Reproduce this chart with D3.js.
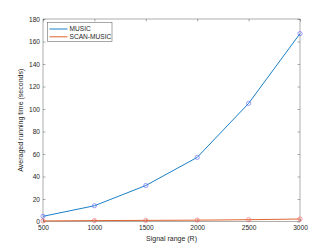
<!DOCTYPE html>
<html><head><meta charset="utf-8">
<script src="https://cdn.jsdelivr.net/npm/d3@7"></script>
<style>body{margin:0;background:#fff}svg{display:block}text{font-family:"Liberation Sans",Arial,sans-serif}</style>
</head><body><svg id="c" width="332" height="249"></svg>
<script>
const signalRange = [500, 1000, 1500, 2000, 2500, 3000];
const musicTime = [4.6, 14, 32, 57, 105, 167];
const scanMusicTime = [0.5, 0.8, 1.0, 1.2, 1.6, 2.2];
const xTicks = [500, 1000, 1500, 2000, 2500, 3000];
const yTicks = [0, 20, 40, 60, 80, 100, 120, 140, 160, 180];
const seriesNames = ["MUSIC", "SCAN-MUSIC"];

const svg = d3.select("#c");
const L = 43, R = 300, T = 19, B = 221.5;
const x = d3.scaleLinear().domain([500, 3000]).range([L, R]);
const y = d3.scaleLinear().domain([0, 180]).range([B, T]);
const axisCol = "#262626", fs = 6.6;

const g = svg.append("g");
// box
g.append("rect").attr("x", L).attr("y", T).attr("width", R - L).attr("height", B - T)
  .attr("fill", "none").attr("stroke", axisCol).attr("stroke-width", 0.5).attr("opacity", 0.75);

function styleAxis(sel, hideText) {
  sel.select(".domain").remove();
  sel.selectAll(".tick line").attr("stroke", axisCol).attr("stroke-width", 0.5).attr("opacity", 0.75);
  sel.selectAll(".tick text").attr("fill", axisCol).style("font-size", fs + "px")
    .style("font-family", '"Liberation Sans",Arial,sans-serif');
  if (hideText) sel.selectAll(".tick text").remove();
}
g.append("g").attr("transform", `translate(0,${B})`)
  .call(d3.axisBottom(x).tickValues(xTicks).tickSize(-2.5).tickPadding(4).tickFormat(d3.format("d")))
  .call(s => styleAxis(s, false));
g.append("g").attr("transform", `translate(0,${T})`)
  .call(d3.axisTop(x).tickValues(xTicks).tickSize(-2.5))
  .call(s => styleAxis(s, true));
g.append("g").attr("transform", `translate(${L},0)`)
  .call(d3.axisLeft(y).tickValues(yTicks).tickSize(-2.5).tickPadding(3).tickFormat(d3.format("d")))
  .call(s => styleAxis(s, false));
g.append("g").attr("transform", `translate(${R},0)`)
  .call(d3.axisRight(y).tickValues(yTicks).tickSize(-2.5))
  .call(s => styleAxis(s, true));

const series = [
  {name: seriesNames[0], vals: musicTime, line: "#0072BD", mark: "#5c5cff"},
  {name: seriesNames[1], vals: scanMusicTime, line: "#D95319", mark: "#ff5c5c"}
];
const lineGen = d3.line().x((d, i) => x(signalRange[i])).y(d => y(d));
series.forEach(s => {
  g.append("path").datum(s.vals).attr("d", lineGen).attr("fill", "none")
    .attr("stroke", s.line).attr("stroke-width", 0.9);
  g.selectAll(null).data(s.vals).enter().append("circle")
    .attr("cx", (d, i) => x(signalRange[i])).attr("cy", d => y(d)).attr("r", 2.1)
    .attr("fill", "none").attr("stroke", s.mark).attr("stroke-width", 0.6);
});

// labels
g.append("text").attr("x", (L + R) / 2).attr("y", 241).attr("text-anchor", "middle")
  .style("font-size", "7px").attr("fill", axisCol).text("Signal range (R)");
g.append("text").attr("transform", `translate(23,${(T + B) / 2}) rotate(-90)`).attr("text-anchor", "middle")
  .style("font-size", "7px").attr("fill", axisCol).text("Averaged running time (seconds)");

// legend
const lg = g.append("g");
lg.append("rect").attr("x", 47.5).attr("y", 22.5).attr("width", 64.5).attr("height", 19)
  .attr("fill", "#fff").attr("stroke", axisCol).attr("stroke-width", 0.5).attr("opacity", 0.8);
series.forEach((s, i) => {
  const yy = 29 + i * 7.8;
  lg.append("line").attr("x1", 49.5).attr("x2", 67.5).attr("y1", yy).attr("y2", yy)
    .attr("stroke", s.line).attr("stroke-width", 0.9);
  lg.append("text").attr("x", 69.5).attr("y", yy + 2.3).style("font-size", fs + "px")
    .attr("fill", axisCol).text(s.name);
});
</script></body></html>
